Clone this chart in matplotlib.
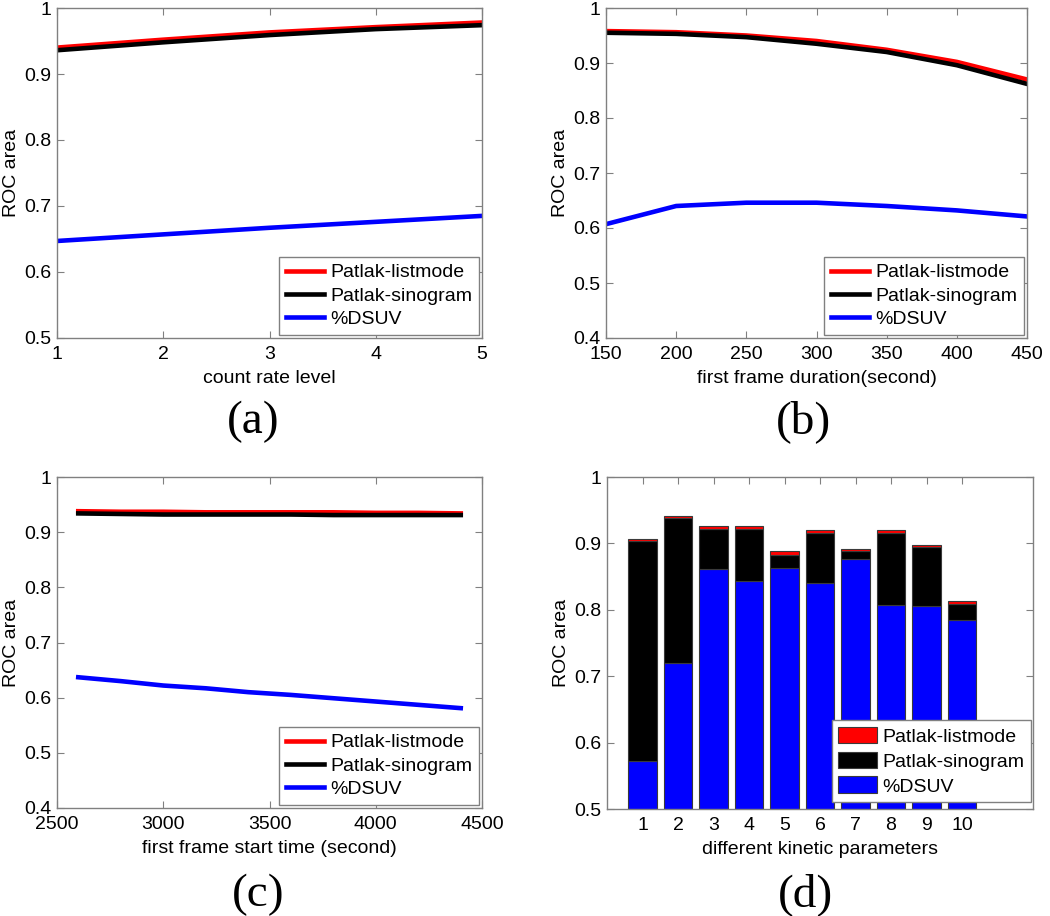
import matplotlib
matplotlib.use("Agg")
import matplotlib.pyplot as plt
import numpy as np
from matplotlib.ticker import FuncFormatter

# ---------------- data ----------------
# (a) count rate level
a_x = [1, 2, 3, 4, 5]
a_listmode = [0.940, 0.952, 0.963, 0.971, 0.978]
a_sinogram = [0.936, 0.948, 0.959, 0.968, 0.974]
a_dsuv = [0.647, 0.657, 0.667, 0.676, 0.685]

# (b) first frame duration (second)
b_x = [150, 200, 250, 300, 350, 400, 450]
b_listmode = [0.958, 0.956, 0.950, 0.940, 0.924, 0.902, 0.870]
b_sinogram = [0.955, 0.953, 0.947, 0.935, 0.920, 0.896, 0.862]
b_dsuv = [0.607, 0.640, 0.646, 0.646, 0.640, 0.632, 0.621]

# (c) first frame start time (second)
c_x = [2600, 2800, 3000, 3200, 3400, 3600, 3800, 4000, 4200, 4400]
c_listmode = [0.938, 0.937, 0.937, 0.936, 0.936, 0.936, 0.936, 0.935, 0.935, 0.934]
c_sinogram = [0.934, 0.933, 0.932, 0.932, 0.932, 0.932, 0.931, 0.931, 0.931, 0.931]
c_dsuv = [0.637, 0.630, 0.622, 0.617, 0.610, 0.605, 0.599, 0.593, 0.587, 0.581]

# (d) different kinetic parameters
d_x = [1, 2, 3, 4, 5, 6, 7, 8, 9, 10]
d_listmode = [0.907, 0.942, 0.926, 0.926, 0.888, 0.920, 0.892, 0.920, 0.898, 0.813]
d_sinogram = [0.903, 0.938, 0.922, 0.921, 0.883, 0.916, 0.888, 0.915, 0.894, 0.809]
d_dsuv = [0.572, 0.720, 0.862, 0.844, 0.863, 0.840, 0.877, 0.807, 0.806, 0.785]

series_names = ["Patlak-listmode", "Patlak-sinogram", "%DSUV"]
panel_labels = ["(a)", "(b)", "(c)", "(d)"]

# ---------------- style ----------------
FS = 14
plt.rcParams['font.family'] = ['Liberation Sans', 'DejaVu Sans']
plt.rcParams['font.size'] = FS
AX_GRAY = '#808080'

W, H = 1050, 916
fig = plt.figure(figsize=(W / 100, H / 100), dpi=100)


def px_axes(l, t, r, b):
    return fig.add_axes([l / W, 1 - b / H, (r - l) / W, (b - t) / H])


def style(ax):
    for s in ax.spines.values():
        s.set_color(AX_GRAY)
        s.set_linewidth(1.0)
    ax.tick_params(direction='in', length=5, width=0.8, color=AX_GRAY,
                   top=True, right=True, labelsize=FS, pad=4)
    ax.tick_params(axis='x', pad=6)
    ax.yaxis.set_major_formatter(FuncFormatter(lambda v, p: f"{v:g}"))
    ax.xaxis.set_major_formatter(FuncFormatter(lambda v, p: f"{v:g}"))
    ax.set_ylabel("ROC area", labelpad=3)


LW = 3.3


def line_panel(ax, x, lm, sg, ds, xlim, xticks, ylim, yticks, xlabel):
    ax.plot(x, lm, color='#ff0000', lw=LW, label=series_names[0])
    ax.plot(x, sg, color='black', lw=LW, label=series_names[1])
    ax.plot(x, ds, color='#0000ff', lw=LW, label=series_names[2])
    ax.set_xlim(*xlim)
    ax.set_ylim(*ylim)
    ax.set_xticks(xticks)
    ax.set_yticks(yticks)
    ax.set_xlabel(xlabel, labelpad=5)
    style(ax)
    leg = ax.legend(loc='lower right', bbox_to_anchor=(1.0, 0.0), borderaxespad=0.15,
                    fancybox=False, framealpha=1, edgecolor=AX_GRAY, fontsize=FS,
                    handlelength=2.0, labelspacing=0.3, borderpad=0.35,
                    handletextpad=0.3)
    leg.get_frame().set_linewidth(1.0)


ax_a = px_axes(57, 8, 482, 338)
line_panel(ax_a, a_x, a_listmode, a_sinogram, a_dsuv, (1, 5), [1, 2, 3, 4, 5],
           (0.5, 1), np.arange(0.5, 1.01, 0.1), "count rate level")

ax_b = px_axes(606, 8, 1027, 338)
line_panel(ax_b, b_x, b_listmode, b_sinogram, b_dsuv, (150, 450),
           [150, 200, 250, 300, 350, 400, 450], (0.4, 1), np.arange(0.4, 1.01, 0.1),
           "first frame duration(second)")

ax_c = px_axes(57, 477, 482, 808)
line_panel(ax_c, c_x, c_listmode, c_sinogram, c_dsuv, (2500, 4500),
           [2500, 3000, 3500, 4000, 4500], (0.4, 1), np.arange(0.4, 1.01, 0.1),
           "first frame start time (second)")

ax_d = px_axes(607, 477, 1033, 809)
dx = np.array(d_x)
dl = np.array(d_listmode)
dsn = np.array(d_sinogram)
dd = np.array(d_dsuv)
ec = '#3a3a3a'
b1 = ax_d.bar(dx, dd, width=0.8, color='#0000ff', edgecolor=ec, linewidth=0.8,
              label=series_names[2], zorder=2)
b2 = ax_d.bar(dx, dsn - dd, bottom=dd, width=0.8, color='black', edgecolor=ec,
              linewidth=0.8, label=series_names[1], zorder=2)
b3 = ax_d.bar(dx, dl - dsn, bottom=dsn, width=0.8, color='#ff0000', edgecolor=ec,
              linewidth=0.8, label=series_names[0], zorder=2)
ax_d.set_xlim(0, 12)
ax_d.set_ylim(0.5, 1)
ax_d.set_xticks(d_x)
ax_d.set_yticks(np.arange(0.5, 1.01, 0.1))
ax_d.set_xlabel("different kinetic parameters", labelpad=5)
style(ax_d)
leg = ax_d.legend([b3, b2, b1], series_names, loc='lower right',
                  bbox_to_anchor=(0.995, 0.02), borderaxespad=0.0,
                  fancybox=False, framealpha=1, edgecolor=AX_GRAY, fontsize=FS,
                  handlelength=2.0, handleheight=0.95, labelspacing=0.3,
                  borderpad=0.35, handletextpad=0.25)
leg.get_frame().set_linewidth(1.0)
leg.set_zorder(5)

# panel labels
for lab, (x, y) in zip(panel_labels, [(253, 422), (803, 422), (258, 895), (805, 895)]):
    fig.text(x / W, 1 - y / H, lab, ha='center', va='center',
             fontsize=34, family=['Liberation Serif', 'DejaVu Serif'])

fig.savefig("out.png", dpi=100)
